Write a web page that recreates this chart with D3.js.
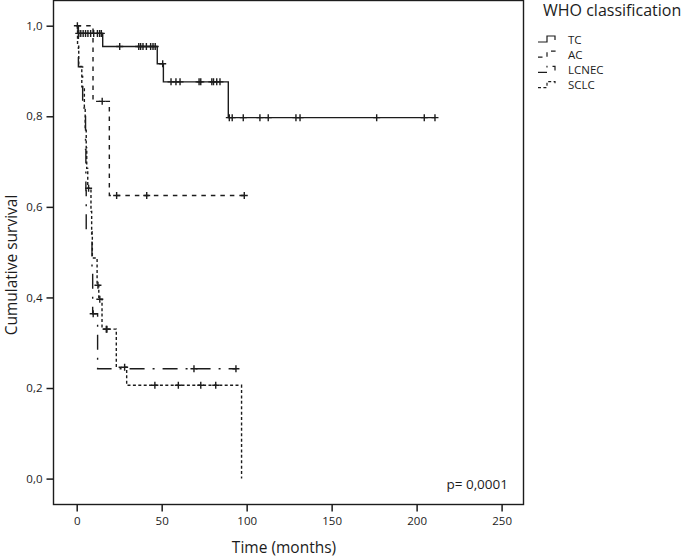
<!DOCTYPE html>
<html>
<head>
<meta charset="utf-8">
<script src="https://cdn.jsdelivr.net/npm/d3@7"></script>
<style>
  html, body { margin: 0; padding: 0; background: #fff; }
  svg { display: block; font-family: "Open Sans", "DejaVu Sans", sans-serif; }
</style>
</head>
<body>
<svg id="chart" width="685" height="558"></svg>
<script>
// ---- Data ----
const groups = ["TC", "AC", "LCNEC", "SCLC"];

// TC
const tcTimes = [0.8, 15.3, 47.4, 51.0, 89.2];
const tcSurv  = [0.983, 0.954, 0.916, 0.876, 0.797];
const tcCensor = [0.4, 1.2, 2.4, 3.8, 5.2, 6.6, 8.2, 10.0, 12.2, 13.5, 14.5,
  25.3, 36.5, 37.6, 39.0, 41.0, 43.5, 44.9, 46.2, 50.6,
  55.5, 58.4, 60.8, 72.0, 73.0, 79.5, 80.5, 82.4, 84.3,
  89.8, 91.5, 98.0, 107.8, 112.7, 129.0, 131.4, 176.5, 204.5, 210.8];
const tcEnd = 210.8;

// AC
const acTimes = [9.6, 19.2];
const acSurv  = [0.833, 0.625];
const acCensor = [15.0, 23.5, 41.2, 98.6];
const acEnd = 98.6;

// LCNEC
const lcTimes = [1.0, 3.5, 5.2, 5.4, 5.6, 9.0, 9.4, 12.3];
const lcSurv  = [0.909, 0.818, 0.727, 0.636, 0.545, 0.4545, 0.364, 0.2424];
const lcCensor = [9.7, 69.0, 93.7];
const lcEnd = 93.7;

// SCLC
const scTimes = [0.5, 1.2, 3.0, 4.5, 5.0, 5.6, 5.9, 6.5, 8.4, 8.8, 9.2, 12.0, 13.0, 14.9, 23.3, 29.4, 97.0];
const scSurv  = [0.955, 0.91, 0.865, 0.82, 0.775, 0.73, 0.685, 0.641, 0.59, 0.54, 0.487, 0.427, 0.396, 0.33, 0.246, 0.206, 0.0];
const scCensor = [7.0, 12.5, 13.6, 17.4, 17.8, 28.2, 46.0, 59.8, 73.0, 81.8];
const scEnd = 97.0;

const xTicks = [0, 50, 100, 150, 200, 250];
const yTicks = [0.0, 0.2, 0.4, 0.6, 0.8, 1.0];
const pText = "p= 0,0001";

// ---- Layout ----
const svg = d3.select("#chart");
const frame = { left: 53.5, right: 523.5, top: 0.5, bottom: 504.5 };
const x = d3.scaleLinear().domain([0, 250]).range([76.7, 501.6]);
const y = d3.scaleLinear().domain([0, 1]).range([478.6, 25.7]);
const ink = "#1c1c1c";

const series = [
  { name: "TC", times: tcTimes, surv: tcSurv, censor: tcCensor, end: tcEnd, dash: null },
  { name: "AC", times: acTimes, surv: acSurv, censor: acCensor, end: acEnd, dash: "4.5,5" },
  { name: "LCNEC", times: lcTimes, surv: lcSurv, censor: lcCensor, end: lcEnd, dash: "15,8,2,8" },
  { name: "SCLC", times: scTimes, surv: scSurv, censor: scCensor, end: scEnd, dash: "3,2.4" }
];

// frame
svg.append("rect")
  .attr("x", frame.left).attr("y", frame.top)
  .attr("width", frame.right - frame.left).attr("height", frame.bottom - frame.top)
  .attr("fill", "none").attr("stroke", ink).attr("stroke-width", 1.4);

// axes
const fmt = d => d3.format(".1f")(d).replace(".", ",");
const yAxis = svg.append("g").attr("transform", `translate(${frame.left},0)`)
  .call(d3.axisLeft(y).tickValues(yTicks).tickFormat(fmt).tickSize(7).tickPadding(4));
const xAxis = svg.append("g").attr("transform", `translate(0,${frame.bottom})`)
  .call(d3.axisBottom(x).tickValues(xTicks).tickFormat(d3.format("d")).tickSize(7).tickPadding(5));
[yAxis, xAxis].forEach(g => {
  g.select(".domain").remove();
  g.selectAll(".tick line").attr("stroke", ink).attr("stroke-width", 1.5);
  g.selectAll(".tick text").attr("fill", ink).style("font-size", "11.5px")
    .style("font-family", '"Open Sans", sans-serif');
});

// axis titles
svg.append("text").attr("x", 284).attr("y", 553).attr("text-anchor", "middle")
  .attr("fill", ink).style("font-size", "15.5px").text("Time (months)");
svg.append("text").attr("transform", "translate(17,265) rotate(-90)").attr("text-anchor", "middle")
  .attr("fill", ink).style("font-size", "15.5px").text("Cumulative survival");

// p-value
svg.append("text").attr("x", 508).attr("y", 489).attr("text-anchor", "end")
  .attr("fill", ink).style("font-size", "13.5px").text(pText);

// step curves
const stepLine = d3.line().x(d => x(d[0])).y(d => y(d[1])).curve(d3.curveStepAfter);
function survAt(s, t) {
  let v = 1;
  for (let i = 0; i < s.times.length; i++) if (s.times[i] <= t) v = s.surv[i];
  return v;
}
series.forEach(s => {
  const pts = [[0, 1]];
  s.times.forEach((t, i) => pts.push([t, s.surv[i]]));
  const last = pts[pts.length - 1];
  if (s.end > last[0]) pts.push([s.end, last[1]]);
  svg.append("path").attr("d", stepLine(pts))
    .attr("fill", "none").attr("stroke", ink).attr("stroke-width", 1.4)
    .attr("stroke-dasharray", s.dash);
  const g = svg.append("g");
  s.censor.forEach(t => {
    const cx = x(t), cy = y(survAt(s, t));
    g.append("path").attr("d", `M${cx - 3.5},${cy}H${cx + 3.5}M${cx},${cy - 3.5}V${cy + 3.5}`)
      .attr("stroke", ink).attr("stroke-width", 1.4).attr("fill", "none");
  });
});

// legend
svg.append("text").attr("x", 543).attr("y", 16).attr("fill", ink)
  .style("font-size", "16px").text("WHO classification");
series.forEach((s, i) => {
  const ly = 42 + i * 15.2;
  svg.append("path").attr("d", `M538,${ly}H547V${ly - 6}H555V${ly - 2}`)
    .attr("fill", "none").attr("stroke", ink).attr("stroke-width", 1.2)
    .attr("stroke-dasharray", s.dash ? (s.name === "LCNEC" ? "9,5,1.5,5" : s.dash) : null);
  svg.append("text").attr("x", 568).attr("y", ly + 1.5).attr("fill", ink)
    .style("font-size", "11.5px").text(s.name);
});
</script>
</body>
</html>
